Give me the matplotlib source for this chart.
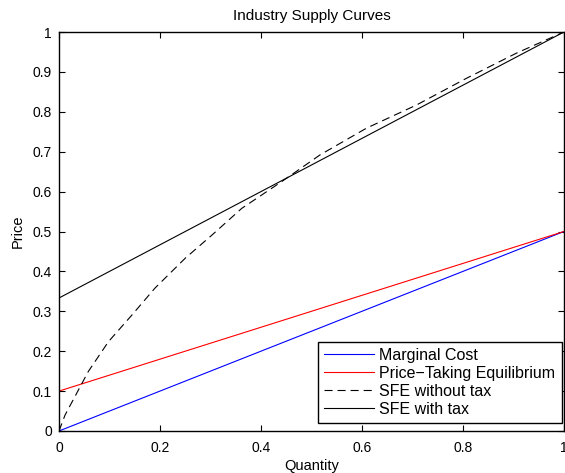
import matplotlib
matplotlib.use("Agg")
import matplotlib.pyplot as plt
import numpy as np

plt.rcParams['font.family'] = ['Liberation Sans', 'DejaVu Sans']
plt.rcParams['lines.scale_dashes'] = False

# Data
mc_x = [0.0, 1.0]
mc_y = [0.0, 0.5]
pte_x = [0.0, 1.0]
pte_y = [0.1, 0.5]
sfe_notax_x = [0.0, 0.012, 0.058, 0.098, 0.144, 0.190, 0.25, 0.302, 0.362, 0.441,
               0.517, 0.609, 0.708, 0.807, 0.906, 1.0]
sfe_notax_y = [0.0, 0.04, 0.149, 0.224, 0.29, 0.358, 0.433, 0.49, 0.558, 0.625,
               0.692, 0.759, 0.817, 0.884, 0.947, 1.0]
sfe_tax_x = [0.0, 1.0]
sfe_tax_y = [1/3, 1.0]

xticks = [0, 0.2, 0.4, 0.6, 0.8, 1]
xticklabels = ['0', '0.2', '0.4', '0.6', '0.8', '1']
yticks = [0, 0.1, 0.2, 0.3, 0.4, 0.5, 0.6, 0.7, 0.8, 0.9, 1]
yticklabels = ['0', '0.1', '0.2', '0.3', '0.4', '0.5', '0.6', '0.7', '0.8', '0.9', '1']

fig = plt.figure(figsize=(5.65, 4.73), dpi=100)
ax = fig.add_axes([0.1044, 0.0888, 0.8936, 0.8435])

lw = 0.8
ax.plot(mc_x, mc_y, color='#0000ff', lw=lw, label='Marginal Cost')
ax.plot(pte_x, pte_y, color='#ff0000', lw=lw, label='Price\u2212Taking Equilibrium')
ax.plot(sfe_notax_x, sfe_notax_y, color='black', lw=lw, dashes=(5.8, 3.6), label='SFE without tax')
ax.plot(sfe_tax_x, sfe_tax_y, color='black', lw=lw, label='SFE with tax')

ax.set_xlim(0, 1)
ax.set_ylim(0, 1)
ax.set_xticks(xticks)
ax.set_xticklabels(xticklabels)
ax.set_yticks(yticks)
ax.set_yticklabels(yticklabels)
ax.tick_params(direction='in', top=True, right=True, length=4, width=0.8, labelsize=10)
ax.tick_params(axis='x', pad=7)
ax.tick_params(axis='y', pad=5)
for s in ax.spines.values():
    s.set_linewidth(1.0)

ax.set_title('Industry Supply Curves', fontsize=11, pad=9)
ax.set_xlabel('Quantity', fontsize=10.5, labelpad=3)
ax.set_ylabel('Price', fontsize=10.5, labelpad=6)

leg = ax.legend(loc='lower right', bbox_to_anchor=(0.996, 0.02), borderaxespad=0.0,
                fontsize=11.5, handlelength=3.1, handletextpad=0.35,
                borderpad=0.4, labelspacing=0.18,
                fancybox=False, framealpha=1, edgecolor='black')
leg.get_frame().set_linewidth(1.0)

fig.savefig('out.png', dpi=100)
